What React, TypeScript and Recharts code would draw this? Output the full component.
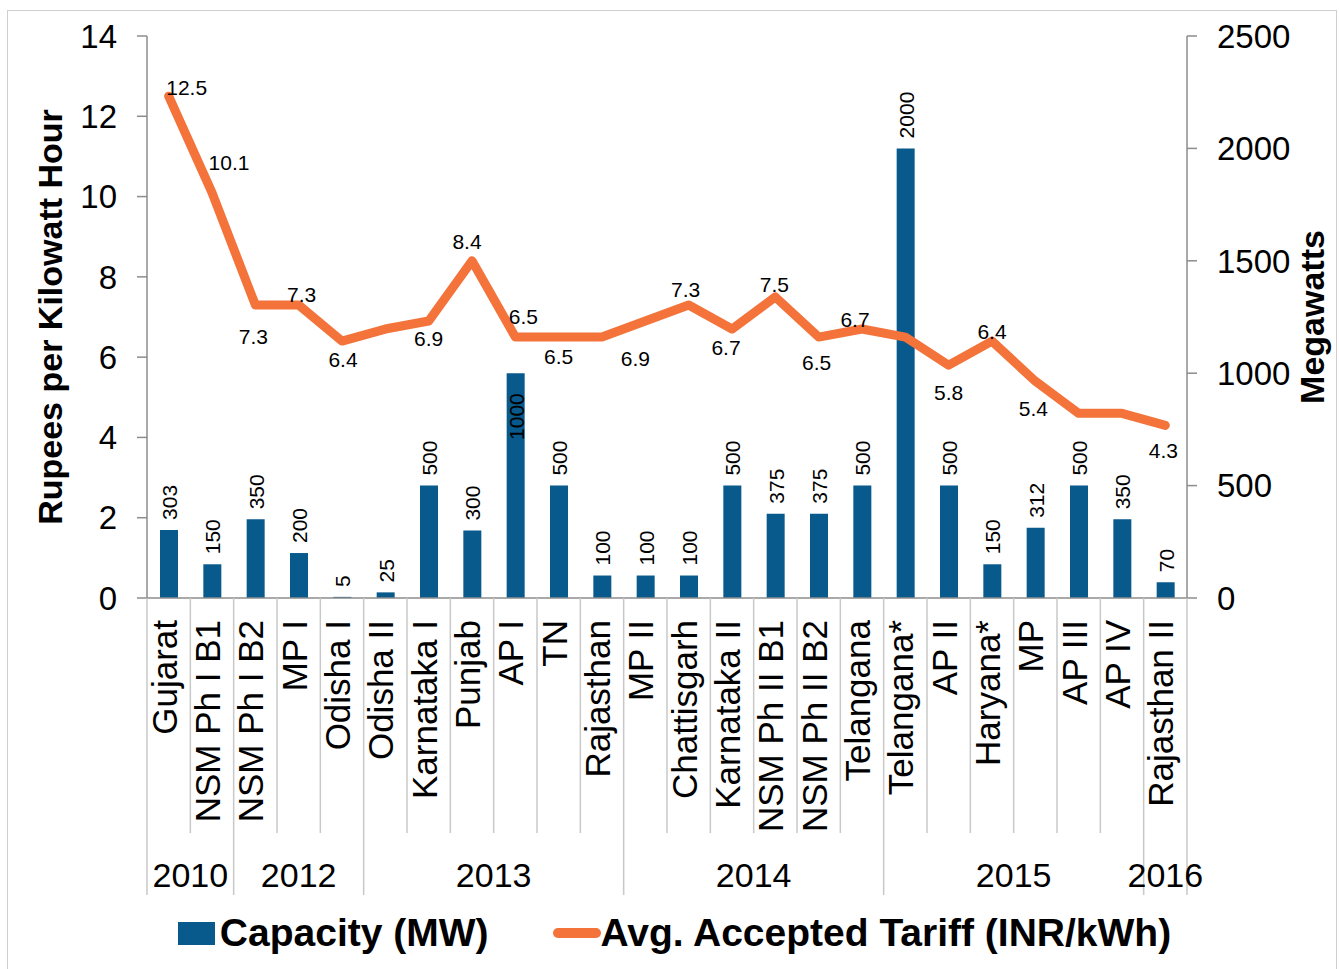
import React from 'react'
import { ComposedChart, Bar, Line, XAxis, YAxis, LabelList, Legend, Label } from 'recharts'

const categories = [
  'Gujarat', 'NSM Ph I B1', 'NSM Ph I B2', 'MP I', 'Odisha I', 'Odisha II', 'Karnataka I', 'Punjab',
  'AP I', 'TN', 'Rajasthan', 'MP II', 'Chattisgarh', 'Karnataka II', 'NSM Ph II B1', 'NSM Ph II B2',
  'Telangana', 'Telangana*', 'AP II', 'Haryana*', 'MP', 'AP III', 'AP IV', 'Rajasthan II',
]
const yearLabels = ['2010', '2012', '2013', '2014', '2015', '2016']
const yearSizes = [2, 3, 6, 6, 6, 1]
const capacity = [303, 150, 350, 200, 5, 25, 500, 300, 1000, 500, 100, 100, 100, 500, 375, 375, 500, 2000, 500, 150, 312, 500, 350, 70]
const tariff = [12.5, 10.1, 7.3, 7.3, 6.4, 6.7, 6.9, 8.4, 6.5, 6.5, 6.5, 6.9, 7.3, 6.7, 7.5, 6.5, 6.7, 6.5, 5.8, 6.4, 5.4, 4.6, 4.6, 4.3]
const leftTicks = [0, 2, 4, 6, 8, 10, 12, 14]
const rightTicks = [0, 500, 1000, 1500, 2000, 2500]

// label placement only (dx, dy from the point); null = not labelled in the original
const tariffLabelOffsets: ([number, number] | null)[] = [
  [18, -9], [17, -30], [-2, 32], [3, -10], [1, 19], null, [0, 18], [-5, -19],
  [8, -20], [0, 20], null, [-10, 38], [-3, -15], [-6, 19], [-1, -12], [-2, 26],
  [-7, -9], null, [0, 27], [0, -9], [-2, 27], null, null, [-2, 25],
]
const barLabelInside = [8]

const data = categories.map((name, i) => ({ name, capacity: capacity[i], tariff: tariff[i] }))

const FONT = '"Liberation Sans", Arial, sans-serif'
const BLUE = '#08598C'
const ORANGE = '#F4733A'
const AXIS = '#8C8C8C'
const SEP = '#C8C8C8'

const PLOT_LEFT = 147
const PLOT_RIGHT = 1187
const PLOT_TOP = 36
const PLOT_BOTTOM = 598
const BAND = (PLOT_RIGHT - PLOT_LEFT) / categories.length
const groupStarts = yearSizes.map((_, i) => yearSizes.slice(0, i).reduce((a, b) => a + b, 0))

function CategoryTick(props: any) {
  const { x, payload } = props
  const i = payload.index
  const left = x - BAND / 2
  const gi = groupStarts.indexOf(i)
  const last = i === categories.length - 1
  return (
    <g>
      <line x1={left} x2={left} y1={PLOT_BOTTOM} y2={gi >= 0 ? 895 : 833} stroke={SEP} strokeWidth={1.5} />
      {last && <line x1={left + BAND} x2={left + BAND} y1={PLOT_BOTTOM} y2={895} stroke={SEP} strokeWidth={1.5} />}
      <text
        transform={`translate(${x + 8},${PLOT_BOTTOM + 22}) rotate(-90)`}
        textAnchor="end"
        fontSize={35}
        fontFamily={FONT}
        fill="#000"
      >
        {payload.value}
      </text>
      {gi >= 0 && (
        <text x={left + (yearSizes[gi] * BAND) / 2} y={887} textAnchor="middle" fontSize={34} fontFamily={FONT} fill="#000">
          {yearLabels[gi]}
        </text>
      )}
    </g>
  )
}

function BarValueLabel(props: any) {
  const { x, y, width, value, index } = props
  const cx = x + width / 2 + 8
  const inside = barLabelInside.includes(index)
  return (
    <text
      transform={`translate(${cx},${inside ? y + 20 : y - 10}) rotate(-90)`}
      textAnchor={inside ? 'end' : 'start'}
      fontSize={21}
      fontFamily={FONT}
      fill="#000"
    >
      {value}
    </text>
  )
}

function TariffLabel(props: any) {
  const { x, y, value, index } = props
  const off = tariffLabelOffsets[index]
  if (!off) return null
  return (
    <text x={x + off[0]} y={y + off[1]} dy="0.35em" textAnchor="middle" fontSize={21} fontFamily={FONT} fill="#000">
      {value}
    </text>
  )
}

function ChartLegend() {
  return (
    <div
      style={{
        display: 'flex',
        justifyContent: 'center',
        alignItems: 'center',
        height: 60,
        paddingLeft: 10,
        fontFamily: FONT,
        fontWeight: 'bold',
        fontSize: 39,
        color: '#000',
        whiteSpace: 'nowrap',
      }}
    >
      <span style={{ display: 'inline-block', width: 37, height: 23, background: BLUE, marginRight: 5 }} />
      <span>Capacity (MW)</span>
      <span style={{ display: 'inline-block', width: 48, height: 10, borderRadius: 5, background: ORANGE, marginLeft: 64 }} />
      <span>Avg. Accepted Tariff (INR/kWh)</span>
    </div>
  )
}

export default function App() {
  return (
    <div style={{ position: 'absolute', left: 0, top: 0, width: 1339, height: 969, background: '#fff', overflow: 'hidden' }}>
      <div style={{ position: 'absolute', left: 7, top: 10, width: 1328, height: 980, border: '1.5px solid #CFCFCF' }} />
      <ComposedChart
        width={1339}
        height={969}
        data={data}
        margin={{ top: PLOT_TOP, right: 0, left: 0, bottom: 6 }}
        barCategoryGap="30%"
        style={{ position: 'absolute', left: 0, top: 0 }}
      >
        <XAxis
          dataKey="name"
          xAxisId={0}
          interval={0}
          height={305}
          tickLine={false}
          axisLine={{ stroke: AXIS, strokeWidth: 1.5 }}
          tick={<CategoryTick />}
        />
        <YAxis
          yAxisId="left"
          width={147}
          domain={[0, 14]}
          ticks={leftTicks}
          tickSize={10}
          tickMargin={20}
          axisLine={{ stroke: AXIS, strokeWidth: 1.5 }}
          tickLine={{ stroke: AXIS, strokeWidth: 1.5 }}
          tick={{ fill: '#000', fontSize: 33, fontFamily: FONT }}
        >
          <Label
            content={() => (
              <text
                transform={`translate(62,${(PLOT_TOP + PLOT_BOTTOM) / 2}) rotate(-90)`}
                textAnchor="middle"
                fontSize={34}
                fontWeight="bold"
                fontFamily={FONT}
                fill="#000"
              >
                Rupees per Kilowatt Hour
              </text>
            )}
          />
        </YAxis>
        <YAxis
          yAxisId="right"
          orientation="right"
          width={152}
          domain={[0, 2500]}
          ticks={rightTicks}
          tickSize={10}
          tickMargin={20}
          axisLine={{ stroke: AXIS, strokeWidth: 1.5 }}
          tickLine={{ stroke: AXIS, strokeWidth: 1.5 }}
          tick={{ fill: '#000', fontSize: 33, fontFamily: FONT }}
        >
          <Label
            content={() => (
              <text
                transform={`translate(1324,${(PLOT_TOP + PLOT_BOTTOM) / 2}) rotate(-90)`}
                textAnchor="middle"
                fontSize={34}
                fontWeight="bold"
                fontFamily={FONT}
                fill="#000"
              >
                Megawatts
              </text>
            )}
          />
        </YAxis>
        <Legend verticalAlign="bottom" height={60} wrapperStyle={{ height: 60 }} content={() => <ChartLegend />} />
        <Bar yAxisId="right" dataKey="capacity" name="Capacity (MW)" fill={BLUE} barSize={18} isAnimationActive={false}>
          <LabelList dataKey="capacity" content={<BarValueLabel />} />
        </Bar>
        <Line
          yAxisId="left"
          dataKey="tariff"
          name="Avg. Accepted Tariff (INR/kWh)"
          type="linear"
          stroke={ORANGE}
          strokeWidth={9}
          strokeLinejoin="round"
          strokeLinecap="round"
          dot={false}
          activeDot={false}
          isAnimationActive={false}
        >
          <LabelList dataKey="tariff" content={<TariffLabel />} />
        </Line>
      </ComposedChart>
    </div>
  )
}
